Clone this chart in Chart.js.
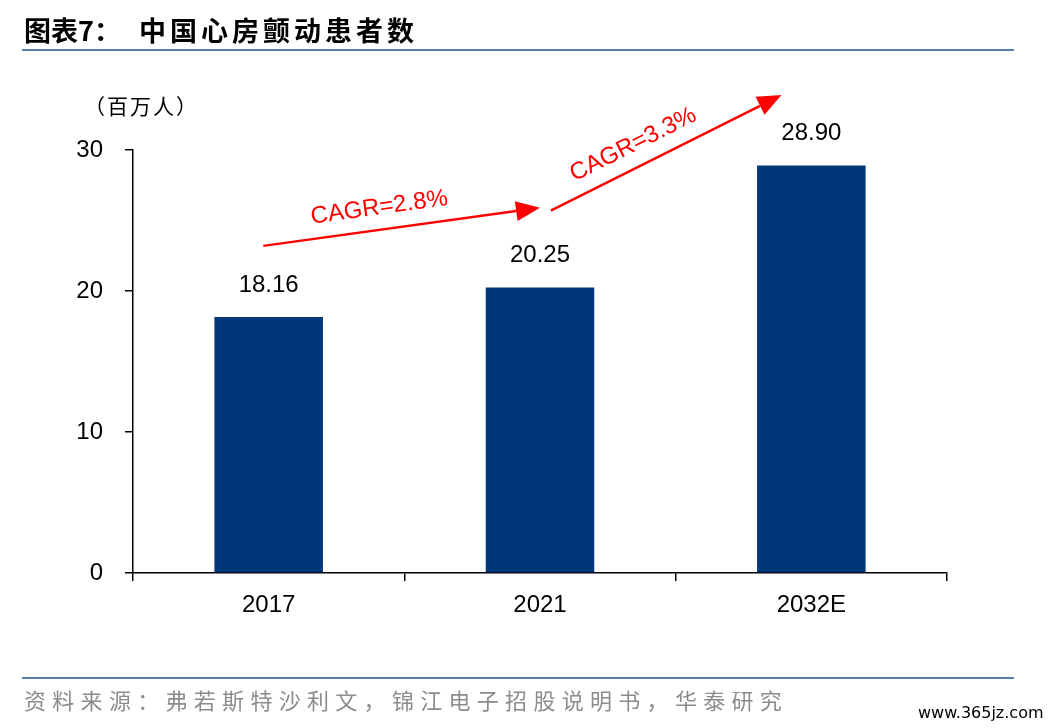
<!DOCTYPE html>
<html><head><meta charset="utf-8">
<script src="https://cdn.jsdelivr.net/npm/chart.js@4/dist/chart.umd.min.js"></script>
<style>
html,body{margin:0;padding:0;background:#fff;}
#wrap{position:relative;width:1048px;height:728px;}
canvas{position:absolute;left:0;top:0;}
.t{position:absolute;font-family:"Noto Sans CJK SC";white-space:nowrap;}
</style></head><body>
<div id="wrap">
<canvas id="c" width="1048" height="728"></canvas>
<div class="t" style="left:24px;top:10px;font-size:27px;font-weight:bold;color:#000;">图表7：<span style="margin-left:18px;letter-spacing:4px;">中国心房颤动患者数</span></div>
<div style="position:absolute;left:22px;top:49px;width:992px;height:2px;background:#5a7fa8;"></div>
<div class="t" style="left:84px;top:90px;font-size:21px;color:#000;letter-spacing:2px;">（百万人）</div>
<div style="position:absolute;left:22px;top:677px;width:992px;height:2px;background:#5a7fa8;"></div>
<div class="t" style="left:24px;top:683px;font-size:22px;color:#8c8c8c;letter-spacing:6.3px;">资料来源：弗若斯特沙利文，锦江电子招股说明书，华泰研究</div>
<div class="t" style="left:918px;top:703px;font-size:16px;color:#000;font-family:'DejaVu Sans';">www.365jz.com</div>
</div>
<script>
const categories=["2017","2021","2032E"];
const patients=[18.16,20.25,28.90];
const valueLabels=["18.16","20.25","28.90"];
const cagrLabels=["CAGR=2.8%","CAGR=3.3%"];
const yTicks=[0,10,20,30];

const annot={id:'annot',afterDatasetsDraw(ch){
  const c=ch.ctx,x=ch.scales.x,y=ch.scales.y,m=ch.getDatasetMeta(0);
  c.save();
  c.font='24px "Liberation Sans"';c.fillStyle='#000';c.textAlign='center';c.textBaseline='bottom';
  m.data.forEach((b,i)=>c.fillText(valueLabels[i],b.x,b.y-20));
  const arrows=[[[-0.02,23.2],[1.0,25.9],cagrLabels[0],0.43],[[1.04,25.7],[1.89,33.9],cagrLabels[1],0.4]];
  c.strokeStyle='#ff0000';c.fillStyle='#ff0000';c.lineWidth=2.5;
  arrows.forEach(([s,e,t,f])=>{
    const x1=x.getPixelForValue(s[0]),y1=y.getPixelForValue(s[1]);
    const x2=x.getPixelForValue(e[0]),y2=y.getPixelForValue(e[1]);
    const a=Math.atan2(y2-y1,x2-x1),L=24,W=10;
    const bx=x2-L*Math.cos(a),by=y2-L*Math.sin(a);
    c.beginPath();c.moveTo(x1,y1);c.lineTo(bx,by);c.stroke();
    c.beginPath();c.moveTo(x2,y2);c.lineTo(bx+W*Math.sin(a),by-W*Math.cos(a));c.lineTo(bx-W*Math.sin(a),by+W*Math.cos(a));c.closePath();c.fill();
    c.save();c.translate(x1+(x2-x1)*f,y1+(y2-y1)*f);c.rotate(a);
    c.font='24px "Liberation Sans"';c.textAlign='center';c.textBaseline='bottom';
    c.fillText(t,0,-10);c.restore();
  });
  c.restore();
}};

new Chart(document.getElementById('c'),{
  type:'bar',
  data:{labels:categories,datasets:[{data:patients,backgroundColor:'#003778',barPercentage:0.8,categoryPercentage:0.5}]},
  options:{responsive:false,animation:false,devicePixelRatio:1,
    layout:{padding:{left:0,top:150,right:101,bottom:105}},
    plugins:{legend:{display:false},tooltip:{enabled:false}},
    scales:{
      x:{offset:true,grid:{offset:true,drawOnChartArea:false,tickLength:8,color:'#000',lineWidth:1.5},
        border:{color:'#000',width:1.5},
        ticks:{color:'#000',font:{family:'Liberation Sans',size:24},padding:10},
        afterFit(s){s.height=50;}},
      y:{min:0,max:30,afterBuildTicks(s){s.ticks=yTicks.map(v=>({value:v}));},
        grid:{drawOnChartArea:false,tickLength:8,color:'#000',lineWidth:1.5},
        border:{color:'#000',width:1.5},
        ticks:{color:'#000',font:{family:'Liberation Sans',size:24},padding:22},
        afterFit(s){s.width=133;}}
    }},
  plugins:[annot]
});
</script>
</body></html>
